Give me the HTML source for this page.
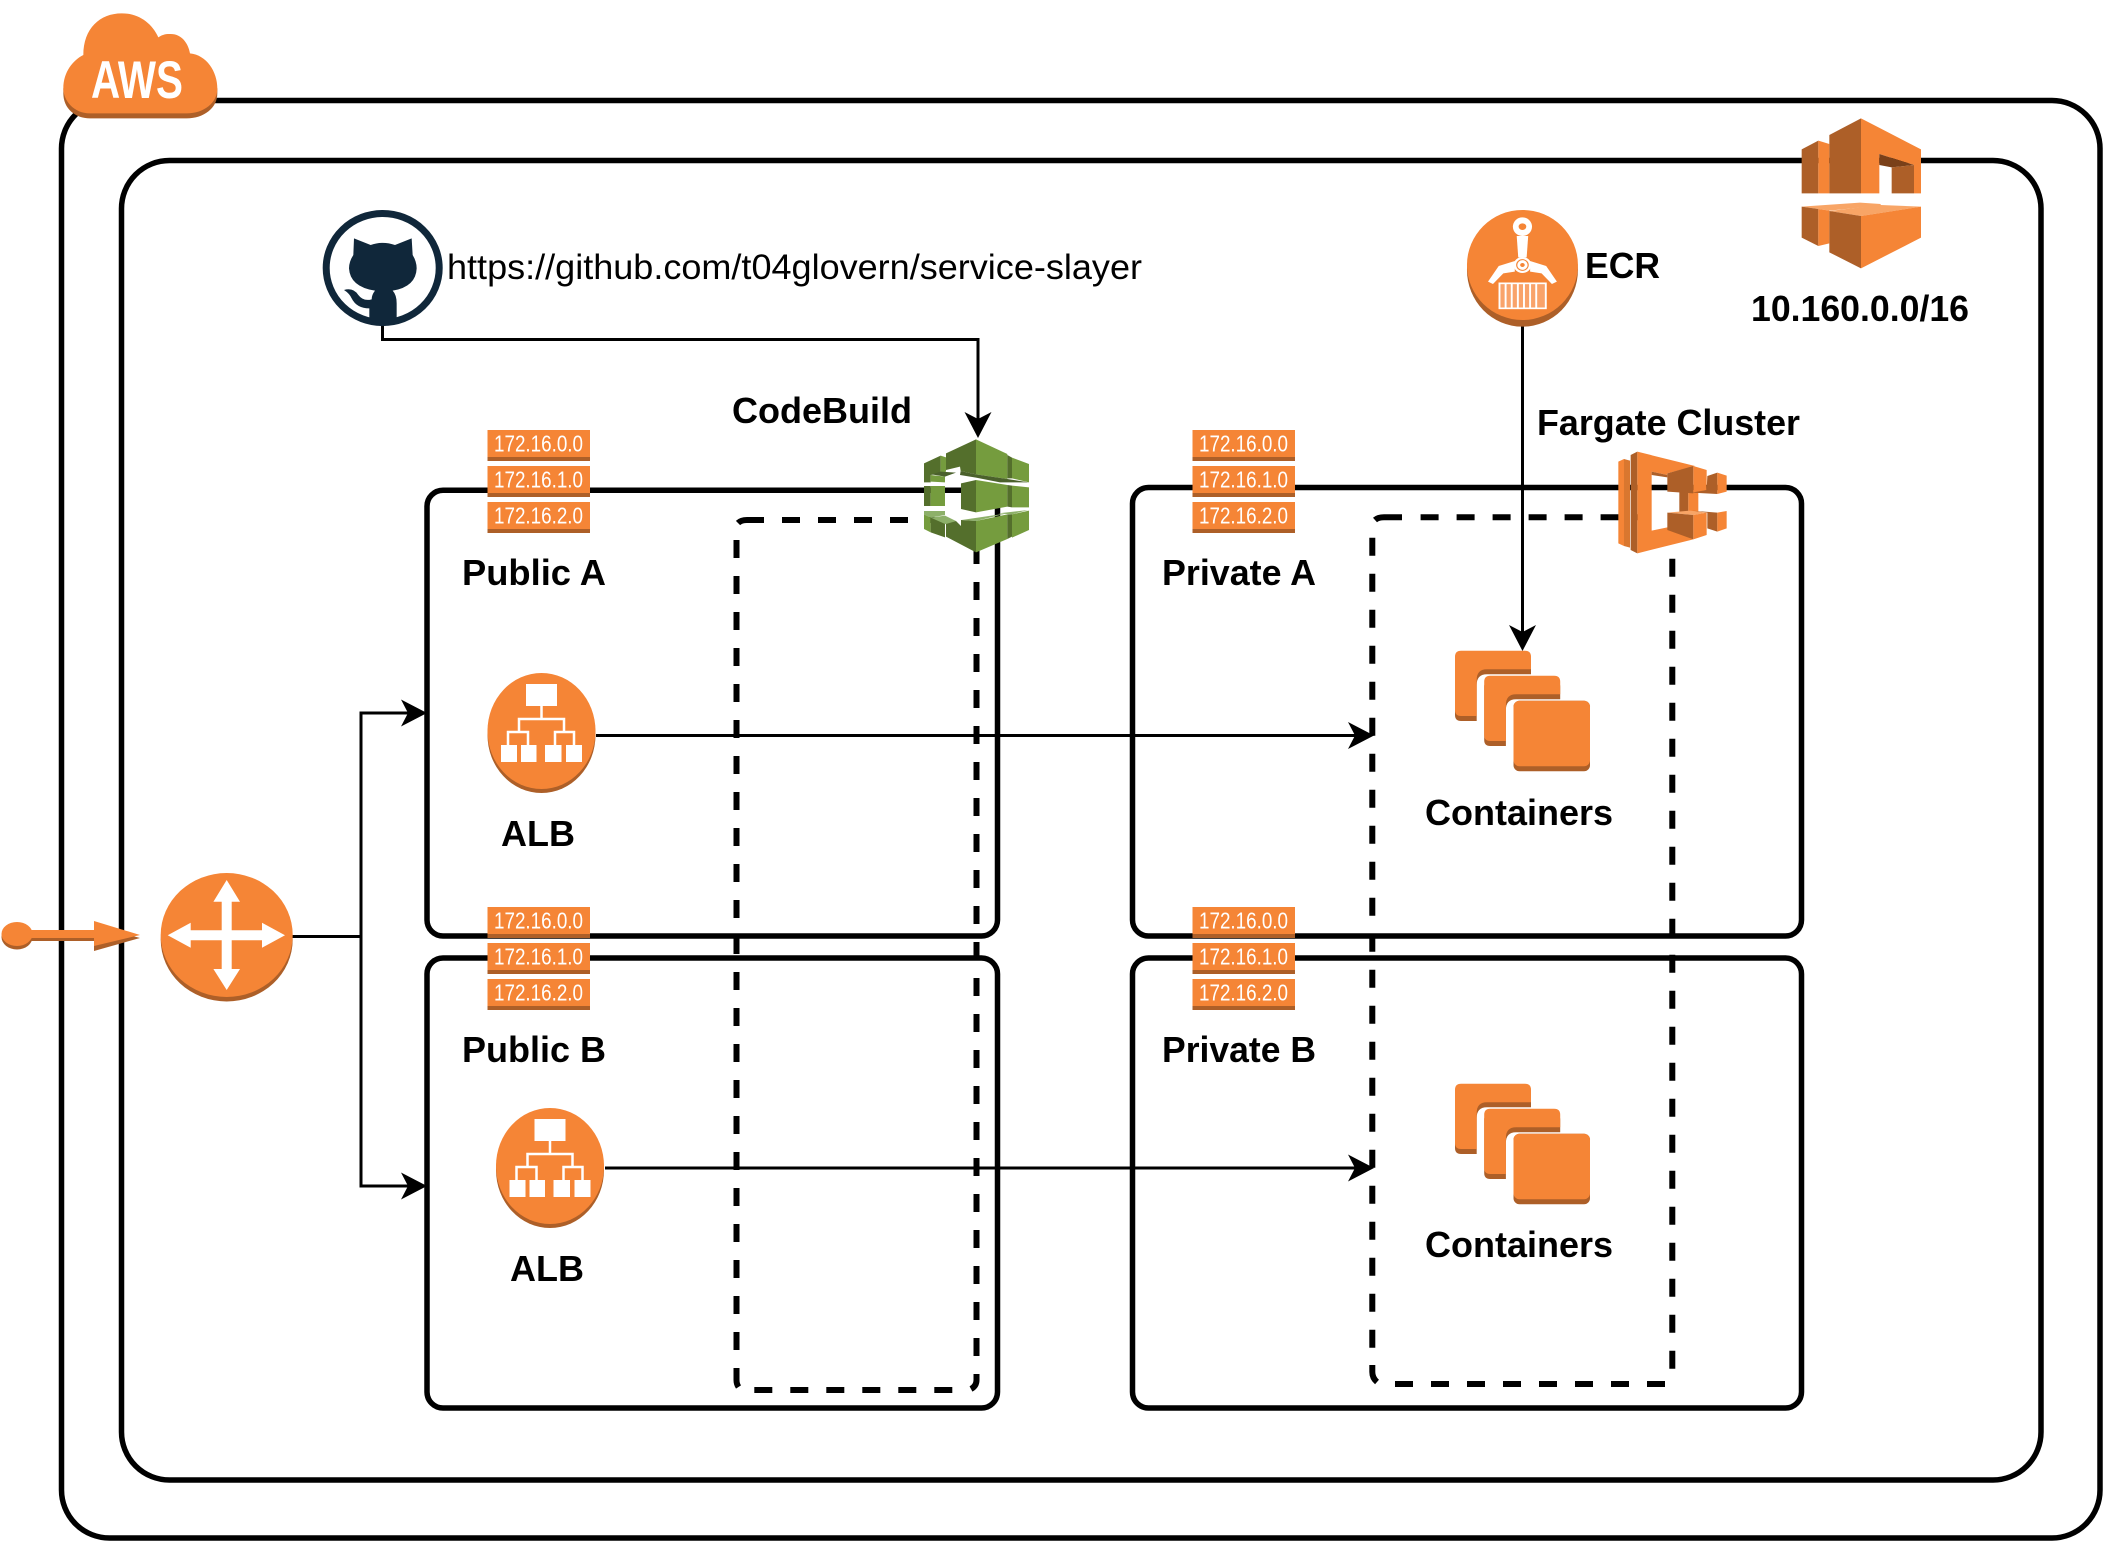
<!DOCTYPE html>
<html><head><meta charset="utf-8"><style>
html,body{margin:0;padding:0;background:#fff}
svg{display:block}
text{font-family:"Liberation Sans",sans-serif}
.b{font-weight:bold;font-size:36px;fill:#000}
.ip{font-size:23px;fill:#fff}
</style></head><body>
<svg xmlns="http://www.w3.org/2000/svg" width="2106" height="1542" viewBox="0 0 2106 1542">
<defs>
<g id="stack">
<rect x="0" y="0" width="102.5" height="31" fill="#F58536"/><rect x="0" y="27" width="102.5" height="4" fill="#AD5F28"/>
<rect x="0" y="36" width="102.5" height="31" fill="#F58536"/><rect x="0" y="63" width="102.5" height="4" fill="#AD5F28"/>
<rect x="0" y="72" width="102.5" height="31" fill="#F58536"/><rect x="0" y="99" width="102.5" height="4" fill="#AD5F28"/>
</g>
<g id="alb">
<ellipse cx="541.5" cy="735" rx="54" ry="58" fill="#AD5F28"/>
<ellipse cx="541.5" cy="731" rx="54" ry="58" fill="#F58536"/>
<rect x="526" y="684" width="31" height="22" fill="#fff"/>
<path d="M541.5 706V719M519 732V719H564V732M508 745V732H528V745M555 745V732H574V745" fill="none" stroke="#fff" stroke-width="2.5"/>
<rect x="501" y="745" width="16" height="17" fill="#fff"/><rect x="521" y="745" width="15.5" height="17" fill="#fff"/>
<rect x="545" y="745" width="16.5" height="17" fill="#fff"/><rect x="566" y="745" width="16" height="17" fill="#fff"/>
</g>
<path id="ell" d="M1461 650.7H1525Q1531 650.7 1531 656.7V669.3H1487Q1476.7 669.3 1476.7 680V716H1461Q1455 716 1455 710V656.7Q1455 650.7 1461 650.7Z"/>
<g id="lbox"><use href="#ell" y="5" fill="#AD5F28"/><use href="#ell" fill="#F58536"/></g>
<g id="cont">
<use href="#lbox"/>
<use href="#lbox" x="29.2" y="25"/>
<rect x="1513.5" y="700.7" width="76.5" height="70.5" rx="6" fill="#AD5F28"/><rect x="1513.5" y="700.7" width="76.5" height="65.5" rx="6" fill="#F58536"/>
</g>
</defs>

<!-- containers -->
<rect x="61.5" y="100.5" width="2038.5" height="1437.5" rx="48" fill="none" stroke="#000" stroke-width="5.5"/>
<rect x="121.5" y="160.5" width="1919.5" height="1319.5" rx="48" fill="none" stroke="#000" stroke-width="5.5"/>
<rect x="427" y="490.3" width="570.5" height="445.7" rx="16" fill="none" stroke="#000" stroke-width="5.5"/>
<rect x="427" y="958" width="570.5" height="450" rx="16" fill="none" stroke="#000" stroke-width="5.5"/>
<rect x="1132.5" y="487.5" width="669" height="448.5" rx="16" fill="none" stroke="#000" stroke-width="5.5"/>
<rect x="1132.5" y="958" width="669" height="450" rx="16" fill="none" stroke="#000" stroke-width="5.5"/>

<!-- dashed groups -->
<g fill="none" stroke="#000" stroke-width="6" stroke-dasharray="18 18">
<path d="M782 520H960"/>
<path d="M976.5 546V1356"/>
<path d="M754.3 1390H952.3"/>
<path d="M736.5 540V1350"/>
<path d="M1420.6 517.3H1650"/>
<path d="M1672.3 558.7V1368.7"/>
<path d="M1395 1384H1665"/>
<path d="M1372.3 537.7V1347.7"/>
</g>
<g fill="none" stroke="#000" stroke-width="6">
<path d="M738 523Q741 520 747 520H764"/>
<path d="M976.5 1374V1380Q976.5 1386 971 1389"/>
<path d="M736.5 1368V1380Q736.5 1384 738.5 1387"/>
<path d="M1375 520Q1378 517.3 1384 517.3H1402"/>
<path d="M1372.3 1365V1372Q1372.3 1378 1377 1382"/>
</g>

<!-- connectors -->
<g fill="none" stroke="#000" stroke-width="3">
<path d="M382.5 325V339.5H978V420"/>
<path d="M1522.5 325V634"/>
<path d="M596 735.5H1356"/>
<path d="M605 1168H1356"/>
<path d="M292 936.5H361M409 713H361V1186H409"/>
</g>
<g fill="#000">
<polygon points="978,438 964.5,412 978,419 991.5,412"/>
<polygon points="1522.5,651 1509,625 1522.5,632 1536,625"/>
<polygon points="1374,735.5 1348,722 1355,735.5 1348,749"/>
<polygon points="1374,1168 1348,1154.5 1355,1168 1348,1181.5"/>
<polygon points="427,713 401,699.5 408,713 401,726.5"/>
<polygon points="427,1186 401,1172.5 408,1186 401,1199.5"/>
</g>

<!-- AWS cloud -->
<g transform="scale(.33333)">
<path d="M190 265L190 280C190 325 225 355 270 355L560 355C610 355 652 325 652 280L652 265Z" fill="#AD5F28"/>
<path d="M250 165C250 85 300 40 365 40C415 40 455 68 475 112C490 102 500 102 512 102C545 102 565 130 570 160C620 165 652 215 652 265C652 310 610 340 560 340L270 340C220 340 190 300 190 265C190 215 220 180 250 165Z" fill="#F58536"/>
</g>
<text x="91" y="98" textLength="92" lengthAdjust="spacingAndGlyphs" style="font-size:53px;font-weight:bold;fill:#fff">AWS</text>

<!-- GitHub -->
<ellipse cx="382.7" cy="268" rx="56.5" ry="54.5" fill="#fff" stroke="#10273A" stroke-width="7"/>
<g transform="scale(.33333)">
<path d="M1062 715L1112 735Q1148 722 1185 735L1235 715L1238 765Q1250 785 1250 805Q1248 860 1178 872Q1190 885 1190 910L1190 952Q1170 978 1148 978Q1125 978 1108 952L1108 925Q1070 925 1055 895Q1048 880 1032 870Q1060 862 1075 885Q1090 905 1115 898Q1115 885 1125 872Q1050 860 1047 805Q1047 785 1060 765Z" fill="#10273A"/>
</g>
<text x="447" y="279" textLength="695" lengthAdjust="spacingAndGlyphs" style="font-size:35px;fill:#000">https://github.com/t04glovern/service-slayer</text>

<!-- VPC -->
<g transform="translate(1790,110) scale(.33333)">
<polygon points="35,118 85,92 85,250 35,250" fill="#AD5F28"/>
<polygon points="85,92 118,102 118,250 85,250" fill="#F58536"/>
<polygon points="118,75 213,25 213,250 118,250" fill="#AD5F28"/>
<polygon points="213,25 393,118 393,250 372,250 372,165 268,132 268,250 213,250" fill="#F58536"/>
<polygon points="268,132 372,165 305,172 268,165" fill="#7A4019"/>
<polygon points="305,172 372,165 372,250 305,250" fill="#AD5F28"/>
<polygon points="35,290 210,278 272,282 272,287 118,302 85,297" fill="#F8A566"/>
<polygon points="35,290 85,297 85,408 35,383" fill="#AD5F28"/>
<polygon points="85,297 118,302 118,400 85,408" fill="#F58536"/>
<polygon points="118,303 272,285 393,290 213,318" fill="#F8A566"/>
<polygon points="118,303 213,318 213,475 118,427" fill="#AD5F28"/>
<polygon points="213,318 393,290 393,383 213,475" fill="#F58536"/>
</g>

<!-- ECR -->
<g transform="translate(1400,80) scale(.38265,.33333)">
<ellipse cx="320" cy="570" rx="145" ry="170" fill="#AD5F28"/>
<ellipse cx="320" cy="555" rx="145" ry="165" fill="#F58536"/>
<g fill="#fff">
<ellipse cx="320" cy="440" rx="25" ry="28"/>
<polygon points="305,468 335,468 331,532 309,532"/>
<polygon points="300,543 258,558 230,605 243,612 270,580 300,575"/>
<polygon points="340,543 382,558 410,605 397,612 370,580 340,575"/>
<ellipse cx="320" cy="555" rx="23" ry="24"/>
</g>
<ellipse cx="320" cy="440" rx="10" ry="10" fill="#F58536"/>
<ellipse cx="320" cy="555" rx="15" ry="16" fill="#fff" stroke="#F58536" stroke-width="3"/>
<ellipse cx="320" cy="555" rx="6" ry="6" fill="#F58536"/>
<rect x="260" y="610" width="121" height="75" fill="#F9A36A" stroke="#fff" stroke-width="5"/>
<path d="M276 610V685M292 610V685M308 610V685M324 610V685M340 610V685M356 610V685" stroke="#fff" stroke-width="5"/>
</g>

<!-- ECS -->
<g transform="translate(1600,440) scale(.33333)">
<polygon points="55,65 72,57 72,318 55,310" fill="#F58536"/>
<polygon points="72,57 90,62 90,323 72,318" fill="#D9772F"/>
<polygon points="92,45 112,35 112,340 92,330" fill="#AD5F28"/>
<polygon points="112,35 285,78 202,100 202,105 155,95 155,272 202,262 280,298 112,340" fill="#F58536"/>
<polygon points="155,95 202,105 202,112 155,105" fill="#AD5F28"/>
<rect x="238" y="150" width="27" height="70" fill="#AD5F28"/><rect x="265" y="150" width="30" height="70" fill="#F58536"/>
<polygon points="202,100 280,78 280,160 202,155" fill="#AD5F28"/>
<polygon points="280,78 320,90 320,150 280,160" fill="#F58536"/>
<polygon points="322,108 352,98 352,162 275,158 320,150" fill="#AD5F28"/>
<polygon points="352,98 380,107 380,155 352,162" fill="#F58536"/>
<polygon points="275,212 352,218 352,275 322,265 322,218" fill="#AD5F28"/>
<polygon points="352,218 380,213 380,265 352,275" fill="#F58536"/>
<polygon points="202,218 270,212 320,218 280,225" fill="#F8A566"/>
<polygon points="202,218 280,225 280,298 202,270" fill="#AD5F28"/>
<polygon points="280,225 320,218 320,285 280,298" fill="#F58536"/>
</g>

<!-- CodeBuild -->
<g transform="translate(900,425) scale(.33333)">
<polygon points="138,85 228,43 228,148 182,138 180,125 138,135" fill="#546F2C"/>
<polygon points="228,43 322,87 322,162 228,148" fill="#759C3E"/>
<polygon points="182,138 228,148 322,162 387,172 300,172 228,158 180,150" fill="#4B612C"/>
<polygon points="322,90 336,98 336,160 322,160" fill="#546F2C"/>
<polygon points="336,98 387,117 387,172 336,160" fill="#759C3E"/>
<polygon points="72,115 122,92 122,145 92,150 92,172 72,172" fill="#546F2C"/>
<polygon points="122,92 138,97 138,140 122,145" fill="#759C3E"/>
<polygon points="95,148 122,140 168,143 135,155" fill="#4B612C"/>
<polygon points="92,150 135,155 135,172 92,170" fill="#759C3E"/>
<rect x="72" y="183" width="20" height="60" fill="#546F2C"/>
<rect x="92" y="183" width="43" height="60" fill="#759C3E"/>
<polygon points="183,175 228,165 228,262 183,252" fill="#546F2C"/>
<polygon points="228,165 322,180 322,245 228,262" fill="#759C3E"/>
<polygon points="322,180 336,182 336,247 322,245" fill="#546F2C"/>
<polygon points="336,182 387,187 387,247 336,247" fill="#759C3E"/>
<polygon points="72,258 135,258 135,270 92,278 72,268" fill="#8DB069"/>
<polygon points="72,268 92,278 92,322 72,312" fill="#759C3E"/>
<polygon points="92,278 135,290 135,337 92,322" fill="#546F2C"/>
<polygon points="92,278 135,272 168,288 138,298" fill="#8DB069"/>
<polygon points="185,285 320,265 228,288" fill="#8DB069"/>
<polygon points="138,297 168,288 183,303 183,285 228,288 228,382 138,335" fill="#546F2C"/>
<polygon points="228,288 322,268 322,342 228,382" fill="#759C3E"/>
<polygon points="295,265 385,255 336,268" fill="#8DB069"/>
<polygon points="322,268 336,268 336,335 322,342" fill="#546F2C"/>
<polygon points="336,268 387,257 387,315 336,338" fill="#759C3E"/>
</g>

<!-- IP stacks -->
<use href="#stack" x="487.5" y="430"/>
<text class="ip" x="494" y="451.7" textLength="89" lengthAdjust="spacingAndGlyphs">172.16.0.0</text>
<text class="ip" x="494" y="487.7" textLength="89" lengthAdjust="spacingAndGlyphs">172.16.1.0</text>
<text class="ip" x="494" y="523.7" textLength="89" lengthAdjust="spacingAndGlyphs">172.16.2.0</text>
<use href="#stack" x="1192.5" y="430"/>
<text class="ip" x="1199" y="451.7" textLength="89" lengthAdjust="spacingAndGlyphs">172.16.0.0</text>
<text class="ip" x="1199" y="487.7" textLength="89" lengthAdjust="spacingAndGlyphs">172.16.1.0</text>
<text class="ip" x="1199" y="523.7" textLength="89" lengthAdjust="spacingAndGlyphs">172.16.2.0</text>
<use href="#stack" x="487.5" y="907"/>
<text class="ip" x="494" y="928.7" textLength="89" lengthAdjust="spacingAndGlyphs">172.16.0.0</text>
<text class="ip" x="494" y="964.7" textLength="89" lengthAdjust="spacingAndGlyphs">172.16.1.0</text>
<text class="ip" x="494" y="1000.7" textLength="89" lengthAdjust="spacingAndGlyphs">172.16.2.0</text>
<use href="#stack" x="1192.5" y="907"/>
<text class="ip" x="1199" y="928.7" textLength="89" lengthAdjust="spacingAndGlyphs">172.16.0.0</text>
<text class="ip" x="1199" y="964.7" textLength="89" lengthAdjust="spacingAndGlyphs">172.16.1.0</text>
<text class="ip" x="1199" y="1000.7" textLength="89" lengthAdjust="spacingAndGlyphs">172.16.2.0</text>

<!-- ALBs -->
<use href="#alb"/>
<use href="#alb" x="8.5" y="435"/>

<!-- Containers -->
<use href="#cont"/>
<use href="#cont" y="433"/>

<!-- Router -->
<ellipse cx="226.7" cy="939.5" rx="66" ry="62" fill="#AD5F28"/>
<ellipse cx="226.7" cy="935" rx="66" ry="62" fill="#F58536"/>
<polygon fill="#fff" points="226.7,880 240,901.7 231.7,901.7 231.7,930.3 262,930.3 262,922.7 285,935.3 262,947.8 262,940.3 231.7,940.3 231.7,969 240,969 226.7,990 213.4,969 221.7,969 221.7,940.3 190.7,940.3 190.7,947.8 167.7,935.3 190.7,922.7 190.7,930.3 221.7,930.3 221.7,901.7 213.4,901.7"/>

<!-- Internet arrow -->
<g fill="#AD5F28">
<ellipse cx="17" cy="937" rx="15.5" ry="12.5"/>
<rect x="25" y="932" width="75" height="9"/>
<polygon points="94,925 140,938 94,951"/>
</g>
<g fill="#F58536">
<ellipse cx="17" cy="934" rx="15.5" ry="12"/>
<rect x="25" y="930" width="75" height="8"/>
<polygon points="94,921 140,935 94,946"/>
</g>

<!-- Labels -->
<text class="b" x="732" y="423" textLength="180" lengthAdjust="spacingAndGlyphs">CodeBuild</text>
<text class="b" x="462" y="585" textLength="144" lengthAdjust="spacingAndGlyphs">Public A</text>
<text class="b" x="1162" y="585" textLength="154" lengthAdjust="spacingAndGlyphs">Private A</text>
<text class="b" x="462" y="1062" textLength="144" lengthAdjust="spacingAndGlyphs">Public B</text>
<text class="b" x="1162" y="1062" textLength="154" lengthAdjust="spacingAndGlyphs">Private B</text>
<text class="b" x="501" y="846" textLength="74" lengthAdjust="spacingAndGlyphs">ALB</text>
<text class="b" x="510" y="1281" textLength="74" lengthAdjust="spacingAndGlyphs">ALB</text>
<text class="b" x="1425" y="825" textLength="188" lengthAdjust="spacingAndGlyphs">Containers</text>
<text class="b" x="1425" y="1257" textLength="188" lengthAdjust="spacingAndGlyphs">Containers</text>
<text class="b" x="1585" y="278" textLength="75" lengthAdjust="spacingAndGlyphs">ECR</text>
<text class="b" x="1751" y="321" textLength="218" lengthAdjust="spacingAndGlyphs">10.160.0.0/16</text>
<text class="b" x="1537" y="435" textLength="263" lengthAdjust="spacingAndGlyphs">Fargate Cluster</text>
</svg>
</body></html>
